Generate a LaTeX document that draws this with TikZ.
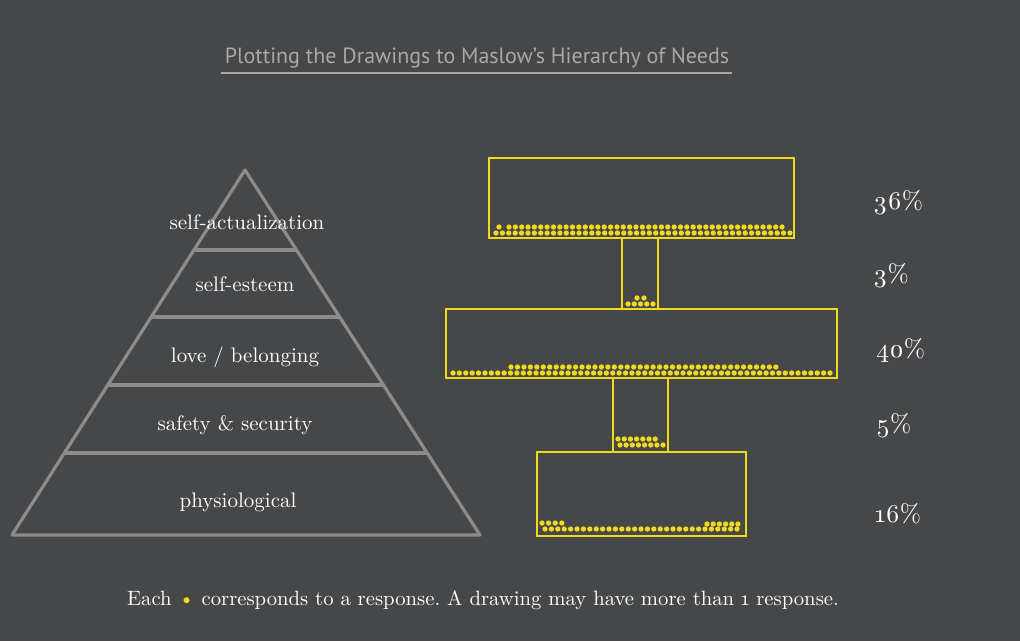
\documentclass[tikz,border=0pt]{standalone}
\usepackage{fontspec}
\usetikzlibrary{calc}
\setmainfont{lmroman10-regular}[Extension=.otf]
\newfontfamily\pctfont{lmroman10-regular}[Extension=.otf, Numbers=OldStyle]
\newfontfamily\titlefont{PT Sans}
\definecolor{bgc}{HTML}{464749}
\definecolor{pyrc}{HTML}{8C8C8C}
\definecolor{ttlc}{HTML}{A8A8A8}
\definecolor{ylw}{HTML}{F0DA1A}
\tikzset{
  pyrline/.style={draw=pyrc, line width=3.2pt, line join=round},
  ybox/.style={draw=ylw, line width=2.6pt},
  dot/.style={fill=ylw},
  lvl/.style={text=white, font=\fontsize{21}{24}\selectfont, inner sep=0pt},
  pct/.style={text=white, font=\pctfont\fontsize{25.5}{29}\selectfont, inner sep=0pt, anchor=base west},
}
\newcommand\dotrow[4]{% x0, step, count, y
  \foreach \i in {1,...,#3} {\fill[dot] ({#1+(\i-1)*#2},#4) circle (2.65pt);}}
\begin{document}
\begin{tikzpicture}[x=1pt,y=-1pt]
\fill[bgc] (0,0) rectangle (1020,641);
\useasboundingbox (0,0) rectangle (1020,641);

% title
\node[text=ttlc, font=\titlefont\fontsize{22}{25}\selectfont, inner sep=0pt] (title) at (477,58) {Plotting the Drawings to Maslow’s Hierarchy of Needs};
\coordinate (ulL) at (221,73);
\coordinate (ulR) at (732,73);
\draw[ttlc, line width=1.6pt] (ulL) -- (ulR);

% pyramid
\coordinate (apex) at (245,170);
\coordinate (bl) at (12,535);
\coordinate (br) at (480,535);
\draw[pyrline] (apex) -- (bl) -- (br) -- cycle;
\foreach \f in {0.2192,0.4027,0.589,0.7753}
  \draw[pyrline] ($(apex)!\f!(bl)$) -- ($(apex)!\f!(br)$);
\node[lvl] (l1) at (247,222) {self-actualization};
\node[lvl] (l2) at (245,284) {self-esteem};
\node[lvl] (l3) at (245,357) {love / belonging};
\node[lvl] (l4) at (235,425) {safety \& security};
\node[lvl] (l5) at (238,502) {physiological};

% boxes
\draw[ybox] (622,238) rectangle (658,309);
\draw[ybox] (613,378) rectangle (668,452);
\draw[ybox] (489,158) rectangle (794,238);
\draw[ybox] (446,309) rectangle (837,378);
\draw[ybox] (537,452) rectangle (746,536);

% dots 36%
\dotrow{496}{6.39}{47}{233}
\fill[dot] (499,227) circle (2.65pt);
\dotrow{509}{6.35}{44}{227}
% dots 3%
\dotrow{628}{6.25}{5}{304}
\dotrow{637}{7}{2}{298}
% dots 40%
\dotrow{453}{6.39}{60}{373}
\dotrow{511}{6.46}{42}{367}
% dots 5%
\dotrow{620}{6.15}{8}{445}
\dotrow{618}{6.2}{7}{439}
% dots 16%
\dotrow{545}{6.4}{31}{529}
\dotrow{542}{6.6}{4}{523}
\dotrow{707}{6.2}{6}{524}

% percentages
\node[pct] (p1) at (873,209) {36\%};
\node[pct] (p2) at (873,282) {3\%};
\node[pct] (p3) at (876,357) {40\%};
\node[pct] (p4) at (876,432) {5\%};
\node[pct] (p5) at (875,522) {16\%};

% footer
\node[text=white, font=\fontsize{20.7}{24}\selectfont\frenchspacing, inner sep=0pt, anchor=base] (foot) at (483,605)
  {Each \textcolor{ylw}{\textbullet} corresponds to a response. A drawing may have more than {\pctfont 1} response.};
\end{tikzpicture}
\end{document}
